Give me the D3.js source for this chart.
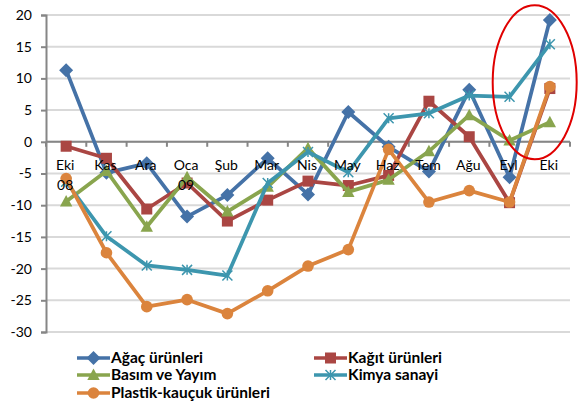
<!DOCTYPE html>
<html><head><meta charset="utf-8">
<script src="https://cdn.jsdelivr.net/npm/d3@7/dist/d3.min.js"></script>
<style>body{margin:0;background:#fff}svg{display:block}</style>
</head><body>
<svg id="c" width="580" height="405"></svg>
<script>
const categories = ["Eki\n08","Kas","Ara","Oca\n09","Şub","Mar","Nis","May","Haz","Tem","Ağu","Eyl","Eki"];
const agac    = [11.3,-4.9,-3.4,-11.8,-8.4,-2.6,-8.3,4.7,-0.8,-4.7,8.2,-5.6,19.2];
const kagit   = [-0.7,-2.6,-10.6,-6.5,-12.5,-9.2,-6.2,-6.9,-5.3,6.4,0.8,-9.6,8.4];
const basim   = [-9.4,-4.6,-13.4,-5.6,-11.0,-7.1,-1.0,-7.9,-6.0,-1.5,4.2,0.2,3.1];
const kimya   = [-6.3,-14.9,-19.5,-20.2,-21.1,-6.5,-1.6,-4.8,3.7,4.5,7.3,7.1,15.4];
const plastik = [-5.8,-17.5,-26.0,-24.9,-27.1,-23.5,-19.6,-17.0,-1.2,-9.5,-7.7,-9.5,8.7];
const yTicks = [20,15,10,5,0,-5,-10,-15,-20,-25,-30];

const series = [
  {name:"Ağaç ürünleri", values:agac, color:"#4572A7", marker:"diamond"},
  {name:"Kağıt ürünleri", values:kagit, color:"#AA4643", marker:"square"},
  {name:"Basım ve Yayım", values:basim, color:"#89A54E", marker:"triangle"},
  {name:"Kimya sanayi", values:kimya, color:"#3D96AE", marker:"star"},
  {name:"Plastik-kauçuk ürünleri", values:plastik, color:"#DB843D", marker:"circle"}
];

(function(){
const svg = d3.select("#c");
const pL = 46, pR = 570, pT = 15, pB = 332;
const x = d3.scaleBand().domain(categories).range([pL, pR]);
const y = d3.scaleLinear().domain([-30, 20]).range([pB, pT]);
const FONT = "Lato, 'Open Sans', sans-serif";

// gridlines
svg.append("g").selectAll("line").data(yTicks).join("line")
  .attr("x1", pL).attr("x2", pR)
  .attr("y1", d => y(d)).attr("y2", d => y(d))
  .attr("stroke", "#d9d9d9").attr("stroke-width", 2);

// y axis
const yAxis = svg.append("g").attr("transform", `translate(${pL},0)`)
  .call(d3.axisLeft(y).tickValues(yTicks).tickSize(5).tickPadding(9).tickFormat(d3.format("d")));
yAxis.select(".domain").attr("stroke", "#868686").attr("stroke-width", 2);
yAxis.selectAll(".tick line").attr("stroke", "#868686").attr("stroke-width", 2);
yAxis.selectAll("text").attr("font-family", FONT).attr("font-size", 14).attr("fill", "#000")
  .text(d => d < 0 ? "-" + Math.abs(d) : d);

// x axis at zero
const xg = svg.append("g").attr("transform", `translate(0,${y(0)})`);
xg.append("line").attr("x1", pL).attr("x2", pR).attr("stroke", "#868686").attr("stroke-width", 2);
const bounds = categories.map((c) => x(c)).concat([pR]);
xg.selectAll("line.tk").data(bounds).join("line").attr("class","tk")
  .attr("x1", d => d).attr("x2", d => d).attr("y1", 0).attr("y2", 5)
  .attr("stroke", "#868686").attr("stroke-width", 2);

function drawMarker(g, type, color, cx, cy, s) {
  if (type === "diamond") {
    g.append("path").attr("d", `M${cx},${cy-s*0.7}L${cx+s*0.7},${cy}L${cx},${cy+s*0.7}L${cx-s*0.7},${cy}Z`).attr("fill", color);
  } else if (type === "square") {
    g.append("rect").attr("x", cx-s*0.55).attr("y", cy-s*0.55).attr("width", s*1.1).attr("height", s*1.1).attr("fill", color);
  } else if (type === "triangle") {
    g.append("path").attr("d", `M${cx},${cy-s*0.65}L${cx+s*0.62},${cy+s*0.5}L${cx-s*0.62},${cy+s*0.5}Z`).attr("fill", color);
  } else if (type === "circle") {
    g.append("circle").attr("cx", cx).attr("cy", cy).attr("r", s*0.58).attr("fill", color);
  } else if (type === "star") {
    const r = s*0.5;
    g.append("path").attr("d",
      `M${cx-r},${cy-r}L${cx+r},${cy+r}M${cx-r},${cy+r}L${cx+r},${cy-r}M${cx},${cy-r}L${cx},${cy+r}`)
      .attr("stroke", color).attr("stroke-width", 1.5).attr("fill", "none");
  }
}

const line = d3.line().x((d,i) => x(categories[i]) + x.bandwidth()/2).y(d => y(d));
series.forEach(s => {
  const g = svg.append("g");
  g.append("path").datum(s.values).attr("d", line)
    .attr("fill", "none").attr("stroke", s.color).attr("stroke-width", 3.75).attr("stroke-linejoin", "round");
  s.values.forEach((v, i) => drawMarker(g, s.marker, s.color, x(categories[i]) + x.bandwidth()/2, y(v), 10));
});

// x labels drawn above lines
const xl = svg.append("g").attr("transform", `translate(0,${y(0)})`);
xl.selectAll("text").data(categories).join("text")
  .attr("y", 28)
  .attr("text-anchor", "middle")
  .attr("font-family", FONT).attr("font-size", 14).attr("fill", "#000")
  .each(function(d){
    const parts = d.split("\n");
    d3.select(this).selectAll("tspan").data(parts).join("tspan")
      .attr("x", x(d) + x.bandwidth()/2 - 1)
      .attr("dy", (p,i) => i === 0 ? 0 : 20)
      .text(p => p);
  });

// red ellipse
svg.append("ellipse").attr("cx", x("Eki") + 5).attr("cy", y(9.4)).attr("rx", 42).attr("ry", 77)
  .attr("fill", "none").attr("stroke", "#e00000").attr("stroke-width", 2);

// legend
const legPos = [[77,358],[314,358],[77,375],[314,375],[77,393]];
series.forEach((s, k) => {
  const [lx, ly] = legPos[k];
  const g = svg.append("g");
  g.append("line").attr("x1", lx).attr("x2", lx+33).attr("y1", ly).attr("y2", ly)
    .attr("stroke", s.color).attr("stroke-width", 3.5);
  drawMarker(g, s.marker, s.color, lx+16.5, ly, 10);
  g.append("text").attr("x", lx+34).attr("y", ly+5)
    .attr("font-family", FONT).attr("font-weight", "bold").attr("font-size", 15.5)
    .attr("fill", "#000").text(s.name);
});
})();
</script>
</body></html>
